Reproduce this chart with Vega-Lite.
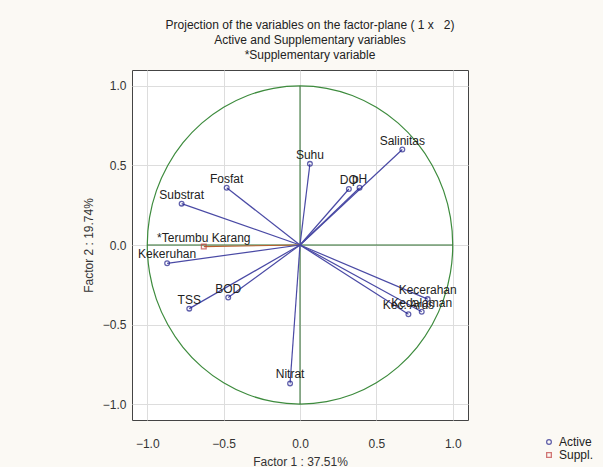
{
  "$schema": "https://vega.github.io/schema/vega-lite/v6.json",
  "width": 336,
  "height": 350,
  "autosize": {"type": "none"},
  "padding": {"left": 132, "top": 70, "right": 135, "bottom": 47},
  "background": "#fbf9f4",
  "config": {
    "font": "Liberation Sans",
    "view": {"fill": "white", "stroke": "#444444", "strokeWidth": 1},
    "axis": {"labelFont": "Liberation Sans", "titleFont": "Liberation Sans", "labelFontSize": 12, "titleFontSize": 12, "labelColor": "#333333", "titleColor": "#333333", "titleFontWeight": "normal", "gridColor": "#dddddd", "domain": false, "ticks": false}
  },
  "title": {
    "text": ["Projection of the variables on the factor-plane (  1 x \u00a0 2)", "Active and Supplementary variables", "*Supplementary variable"],
    "anchor": "middle", "dx": 10, "offset": 8, "fontSize": 12, "fontWeight": "normal", "font": "Liberation Sans", "color": "#222222", "lineHeight": 15
  },
  "datasets": {
    "vars": [
      {"name": "Salinitas", "f1": 0.67, "f2": 0.6, "type": "Active"},
      {"name": "DO", "f1": 0.32, "f2": 0.352, "type": "Active"},
      {"name": "pH", "f1": 0.39, "f2": 0.36, "type": "Active"},
      {"name": "Suhu", "f1": 0.065, "f2": 0.51, "type": "Active"},
      {"name": "Fosfat", "f1": -0.48, "f2": 0.36, "type": "Active"},
      {"name": "Substrat", "f1": -0.775, "f2": 0.26, "type": "Active"},
      {"name": "*Terumbu Karang", "f1": -0.63, "f2": -0.01, "type": "Suppl."},
      {"name": "Kekeruhan", "f1": -0.87, "f2": -0.115, "type": "Active"},
      {"name": "BOD", "f1": -0.47, "f2": -0.33, "type": "Active"},
      {"name": "TSS", "f1": -0.725, "f2": -0.4, "type": "Active"},
      {"name": "Nitrat", "f1": -0.065, "f2": -0.87, "type": "Active"},
      {"name": "Kecerahan", "f1": 0.836, "f2": -0.34, "type": "Active"},
      {"name": "Kedalaman", "f1": 0.797, "f2": -0.42, "type": "Active"},
      {"name": "Kec. Arus", "f1": 0.71, "f2": -0.435, "type": "Active"}
    ],
    "circle": [
      {"i": 0, "cx": 1, "cy": 0},
      {"i": 1, "cx": 0.985, "cy": 0.174},
      {"i": 2, "cx": 0.94, "cy": 0.342},
      {"i": 3, "cx": 0.866, "cy": 0.5},
      {"i": 4, "cx": 0.766, "cy": 0.643},
      {"i": 5, "cx": 0.643, "cy": 0.766},
      {"i": 6, "cx": 0.5, "cy": 0.866},
      {"i": 7, "cx": 0.342, "cy": 0.94},
      {"i": 8, "cx": 0.174, "cy": 0.985},
      {"i": 9, "cx": 0, "cy": 1},
      {"i": 10, "cx": -0.174, "cy": 0.985},
      {"i": 11, "cx": -0.342, "cy": 0.94},
      {"i": 12, "cx": -0.5, "cy": 0.866},
      {"i": 13, "cx": -0.643, "cy": 0.766},
      {"i": 14, "cx": -0.766, "cy": 0.643},
      {"i": 15, "cx": -0.866, "cy": 0.5},
      {"i": 16, "cx": -0.94, "cy": 0.342},
      {"i": 17, "cx": -0.985, "cy": 0.174},
      {"i": 18, "cx": -1, "cy": 0},
      {"i": 19, "cx": -0.985, "cy": -0.174},
      {"i": 20, "cx": -0.94, "cy": -0.342},
      {"i": 21, "cx": -0.866, "cy": -0.5},
      {"i": 22, "cx": -0.766, "cy": -0.643},
      {"i": 23, "cx": -0.643, "cy": -0.766},
      {"i": 24, "cx": -0.5, "cy": -0.866},
      {"i": 25, "cx": -0.342, "cy": -0.94},
      {"i": 26, "cx": -0.174, "cy": -0.985},
      {"i": 27, "cx": 0, "cy": -1},
      {"i": 28, "cx": 0.174, "cy": -0.985},
      {"i": 29, "cx": 0.342, "cy": -0.94},
      {"i": 30, "cx": 0.5, "cy": -0.866},
      {"i": 31, "cx": 0.643, "cy": -0.766},
      {"i": 32, "cx": 0.766, "cy": -0.643},
      {"i": 33, "cx": 0.866, "cy": -0.5},
      {"i": 34, "cx": 0.94, "cy": -0.342},
      {"i": 35, "cx": 0.985, "cy": -0.174}
    ]
  },
  "layer": [
    {
      "data": {"name": "circle"},
      "mark": {"type": "line", "interpolate": "cardinal-closed", "color": "#3d8b3d", "strokeWidth": 1.2},
      "encoding": {
        "x": {"field": "cx", "type": "quantitative", "scale": {"domain": [-1.1, 1.1], "nice": false, "zero": false},
              "axis": {"values": [-1, -0.5, 0, 0.5, 1], "format": ".1f", "title": "Factor 1 : 37.51%", "labelPadding": 18, "titlePadding": 7}},
        "y": {"field": "cy", "type": "quantitative", "scale": {"domain": [-1.1, 1.1], "nice": false, "zero": false},
              "axis": {"values": [-1, -0.5, 0, 0.5, 1], "format": ".1f", "title": "Factor 2 : 19.74%", "labelPadding": 6, "titlePadding": 7}},
        "order": {"field": "i", "type": "quantitative"}
      }
    },
    {
      "data": {"values": [{}]},
      "mark": {"type": "rule", "color": "#2e6e2e", "strokeWidth": 1},
      "encoding": {"x": {"datum": -1}, "x2": {"datum": 1}, "y": {"datum": 0}}
    },
    {
      "data": {"values": [{}]},
      "mark": {"type": "rule", "color": "#2e6e2e", "strokeWidth": 1},
      "encoding": {"y": {"datum": -1}, "y2": {"datum": 1}, "x": {"datum": 0}}
    },
    {
      "data": {"name": "vars"},
      "mark": {"type": "rule", "strokeWidth": 1.2},
      "encoding": {
        "x": {"field": "f1", "type": "quantitative"},
        "y": {"field": "f2", "type": "quantitative"},
        "x2": {"datum": 0},
        "y2": {"datum": 0},
        "color": {"condition": {"test": "datum.type === 'Suppl.'", "value": "#b8602e"}, "value": "#4a4aa5"}
      }
    },
    {
      "data": {"name": "vars"},
      "mark": {"type": "point", "filled": false, "size": 22, "strokeWidth": 1.3},
      "encoding": {
        "x": {"field": "f1", "type": "quantitative"},
        "y": {"field": "f2", "type": "quantitative"},
        "stroke": {"field": "type", "type": "nominal", "title": null,
                   "scale": {"domain": ["Active", "Suppl."], "range": ["#1f1f8a", "#c04040"]},
                   "legend": {"orient": "none", "legendX": 411, "legendY": 366, "labelFontSize": 12, "labelFont": "Liberation Sans", "labelColor": "#222222", "symbolSize": 22, "symbolStrokeWidth": 1.3, "rowPadding": 1}},
        "shape": {"field": "type", "type": "nominal", "title": null,
                  "scale": {"domain": ["Active", "Suppl."], "range": ["circle", "square"]},
                  "legend": {"orient": "none", "legendX": 411, "legendY": 366, "labelFontSize": 12, "labelFont": "Liberation Sans", "labelColor": "#222222", "symbolSize": 22, "symbolStrokeWidth": 1.3, "rowPadding": 1}}
      }
    },
    {
      "data": {"name": "vars"},
      "mark": {"type": "text", "dy": -9, "fontSize": 12, "font": "Liberation Sans", "color": "#222222", "align": "center"},
      "encoding": {
        "x": {"field": "f1", "type": "quantitative"},
        "y": {"field": "f2", "type": "quantitative"},
        "text": {"field": "name"}
      }
    }
  ]
}
